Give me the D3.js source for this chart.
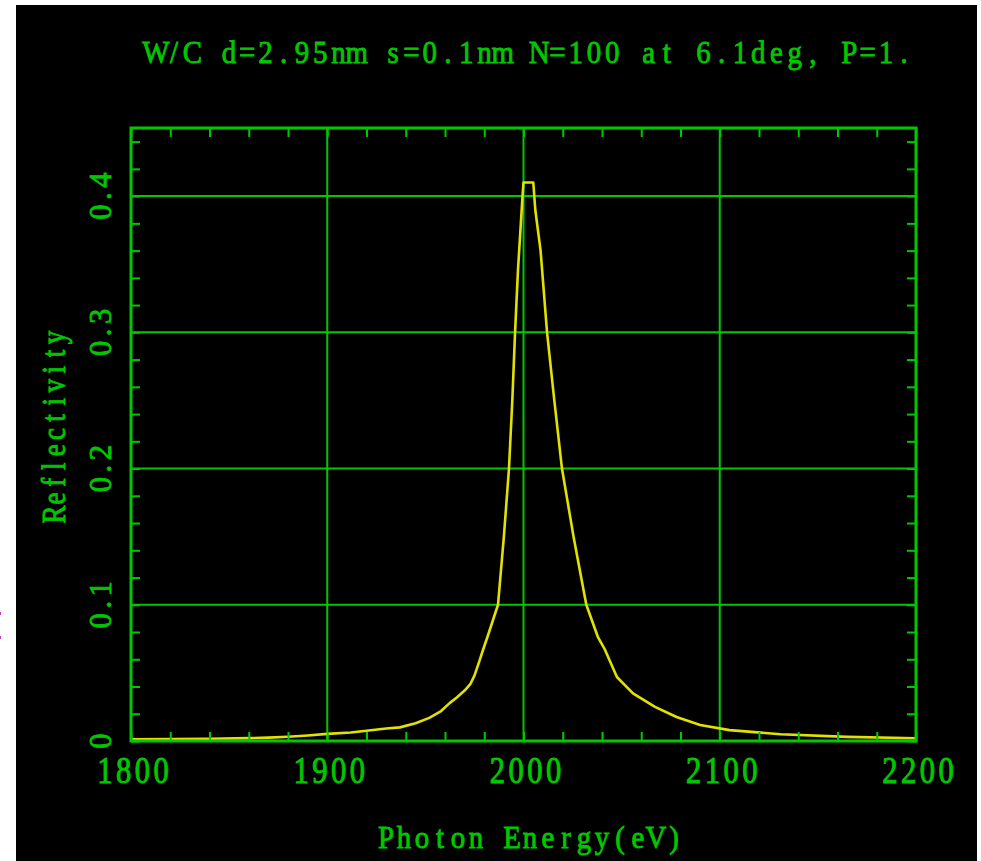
<!DOCTYPE html>
<html>
<head>
<meta charset="utf-8">
<script src="https://cdn.jsdelivr.net/npm/d3@7/dist/d3.min.js"></script>
<style>
  html, body { margin: 0; padding: 0; background: #ffffff; }
  svg { display: block; }
</style>
</head>
<body>
<script>
// ---- data ----
const energy = [1800, 1820, 1840, 1860, 1870, 1880, 1890, 1900, 1912, 1920, 1930, 1937, 1945, 1952,
  1958, 1962.5, 1966, 1970, 1973, 1975, 1977.6, 1979.4, 1982, 1984.5, 1987, 1990, 1992.6, 1994.3,
  1995.7, 1997.2, 1999.5, 2000, 2005, 2006, 2008.7, 2012, 2015.7, 2019.6, 2025.5, 2032, 2038,
  2041.5, 2047.6, 2055.8, 2067, 2078, 2090, 2105, 2131, 2165, 2200];
const reflectivity = [0.0012, 0.0014, 0.0017, 0.0021, 0.0025, 0.0031, 0.0040, 0.0052, 0.0062, 0.0075,
  0.0092, 0.0100, 0.0130, 0.0170, 0.0220, 0.0280, 0.0320, 0.0370, 0.0420, 0.0480, 0.0590, 0.0670,
  0.0780, 0.0890, 0.1000, 0.1500, 0.2000, 0.2500, 0.3000, 0.3460, 0.4000, 0.4100, 0.4100, 0.3900,
  0.3600, 0.3000, 0.2500, 0.2000, 0.1500, 0.1000, 0.0760, 0.0670, 0.0470, 0.0350, 0.0250, 0.0176,
  0.0117, 0.0080, 0.0050, 0.0030, 0.0020];
const xMajorTicks = [1800, 1900, 2000, 2100, 2200];
const xTickLabels = ["1800", "1900", "2000", "2100", "2200"];
const yMajorTicks = [0, 0.1, 0.2, 0.3, 0.4];
const yTickLabels = ["0", "0.1", "0.2", "0.3", "0.4"];
const titleText = "W/C d=2.95nm s=0.1nm N=100 at 6.1deg, P=1.";
const xLabel = "Photon Energy(eV)";
const yLabel = "Reflectivity";

// ---- layout ----
const W = 981, H = 861;
const green = "#00c800";
const font = "'Liberation Serif', 'DejaVu Serif', serif";

const svg = d3.select("body").append("svg").attr("width", W).attr("height", H);
svg.append("rect").attr("x", 0).attr("y", 0).attr("width", W).attr("height", H).attr("fill", "#ffffff");
svg.append("rect").attr("x", 16).attr("y", 5).attr("width", 961).attr("height", 856).attr("fill", "#000000");
svg.append("rect").attr("x", 0).attr("y", 612).attr("width", 1).attr("height", 3).attr("fill", "#c040c0");
svg.append("rect").attr("x", 0).attr("y", 636).attr("width", 1).attr("height", 3).attr("fill", "#c040c0");

const x = d3.scaleLinear().domain([1800, 2200]).range([131, 916]);
const y = d3.scaleLinear().domain([0, 0.45]).range([741, 128]);
const pL = x.range()[0], pR = x.range()[1], pT = y.range()[1], pB = y.range()[0];

// grid lines
const xGrid = xMajorTicks.filter(v => v > 1800 && v < 2200);
const yGrid = yMajorTicks.filter(v => v > 0);
svg.append("g").selectAll("line").data(xGrid).join("line")
  .attr("x1", d => x(d)).attr("x2", d => x(d)).attr("y1", pT).attr("y2", pB)
  .attr("stroke", green).attr("stroke-width", 2);
svg.append("g").selectAll("line").data(yGrid).join("line")
  .attr("x1", pL).attr("x2", pR).attr("y1", d => y(d)).attr("y2", d => y(d))
  .attr("stroke", green).attr("stroke-width", 2);

// curve
const pts = energy.map((e, i) => [e, reflectivity[i]]);
svg.append("path").datum(pts)
  .attr("d", d3.line().x(d => x(d[0])).y(d => y(d[1])))
  .attr("fill", "none").attr("stroke", "#e2e200").attr("stroke-width", 2.6)
  .attr("stroke-linejoin", "round");

// minor ticks on all four sides via d3 axes
const xMinor = d3.range(1800, 2200.1, 20);
const yMinor = d3.range(0, 0.4501, 0.02);
function styleAxis(g) {
  g.select(".domain").remove();
  g.selectAll(".tick line").attr("stroke", green).attr("stroke-width", 2);
  g.selectAll(".tick text").remove();
}
svg.append("g").attr("transform", `translate(0,${pB})`)
  .call(d3.axisBottom(x).tickValues(xMinor).tickSize(-9)).call(styleAxis);
svg.append("g").attr("transform", `translate(0,${pT})`)
  .call(d3.axisTop(x).tickValues(xMinor).tickSize(-9)).call(styleAxis);
svg.append("g").attr("transform", `translate(${pL},0)`)
  .call(d3.axisLeft(y).tickValues(yMinor).tickSize(-9)).call(styleAxis);
svg.append("g").attr("transform", `translate(${pR},0)`)
  .call(d3.axisRight(y).tickValues(yMinor).tickSize(-9)).call(styleAxis);

// frame
svg.append("rect").attr("x", pL).attr("y", pT).attr("width", pR - pL).attr("height", pB - pT)
  .attr("fill", "none").attr("stroke", green).attr("stroke-width", 3);

// text helper: fixed-pitch serif text (each glyph centred in its own cell)
function label(tx, ty, txt, opts) {
  const o = Object.assign({ size: 34, sx: 0.85, sy: 0.95, rot: 0, cell: 18.2 }, opts || {});
  const chars = Array.from(txt);
  const n = chars.length;
  const cellU = o.cell / o.sx;
  const xs = chars.map((c, i) => (-n / 2 + 0.5 + i) * cellU);
  const g = svg.append("g").attr("transform", `translate(${tx},${ty}) rotate(${o.rot}) scale(${o.sx},${o.sy})`);
  const t = g.append("text")
    .attr("font-family", font).attr("font-size", o.size)
    .attr("text-anchor", "middle")
    .attr("fill", green).attr("stroke", green).attr("stroke-width", 0.9);
  t.selectAll("tspan").data(chars).join("tspan")
    .attr("x", (d, i) => xs[i]).attr("y", 0).text(d => d);
  return t;
}

// x tick labels
xMajorTicks.forEach((v, i) => label(x(v) + 2, 783, xTickLabels[i], { size: 34, sx: 0.9, sy: 1.1, cell: 18.8 }));
// y tick labels (rotated)
yMajorTicks.forEach((v, i) => label(111, y(v), yTickLabels[i],
  { size: 34, sx: 0.9, sy: 0.95, rot: -90, cell: 16 }));

// title
label(530, 63, titleText, { size: 34, sx: 0.85, sy: 0.95, cell: 18.25 });
// axis titles
label(530, 848, xLabel, { size: 34, sx: 0.85, sy: 0.95, cell: 18 });
label(65, 426, yLabel, { size: 33, sx: 0.82, sy: 1.0, rot: -90, cell: 16.1 });
</script>
</body>
</html>
